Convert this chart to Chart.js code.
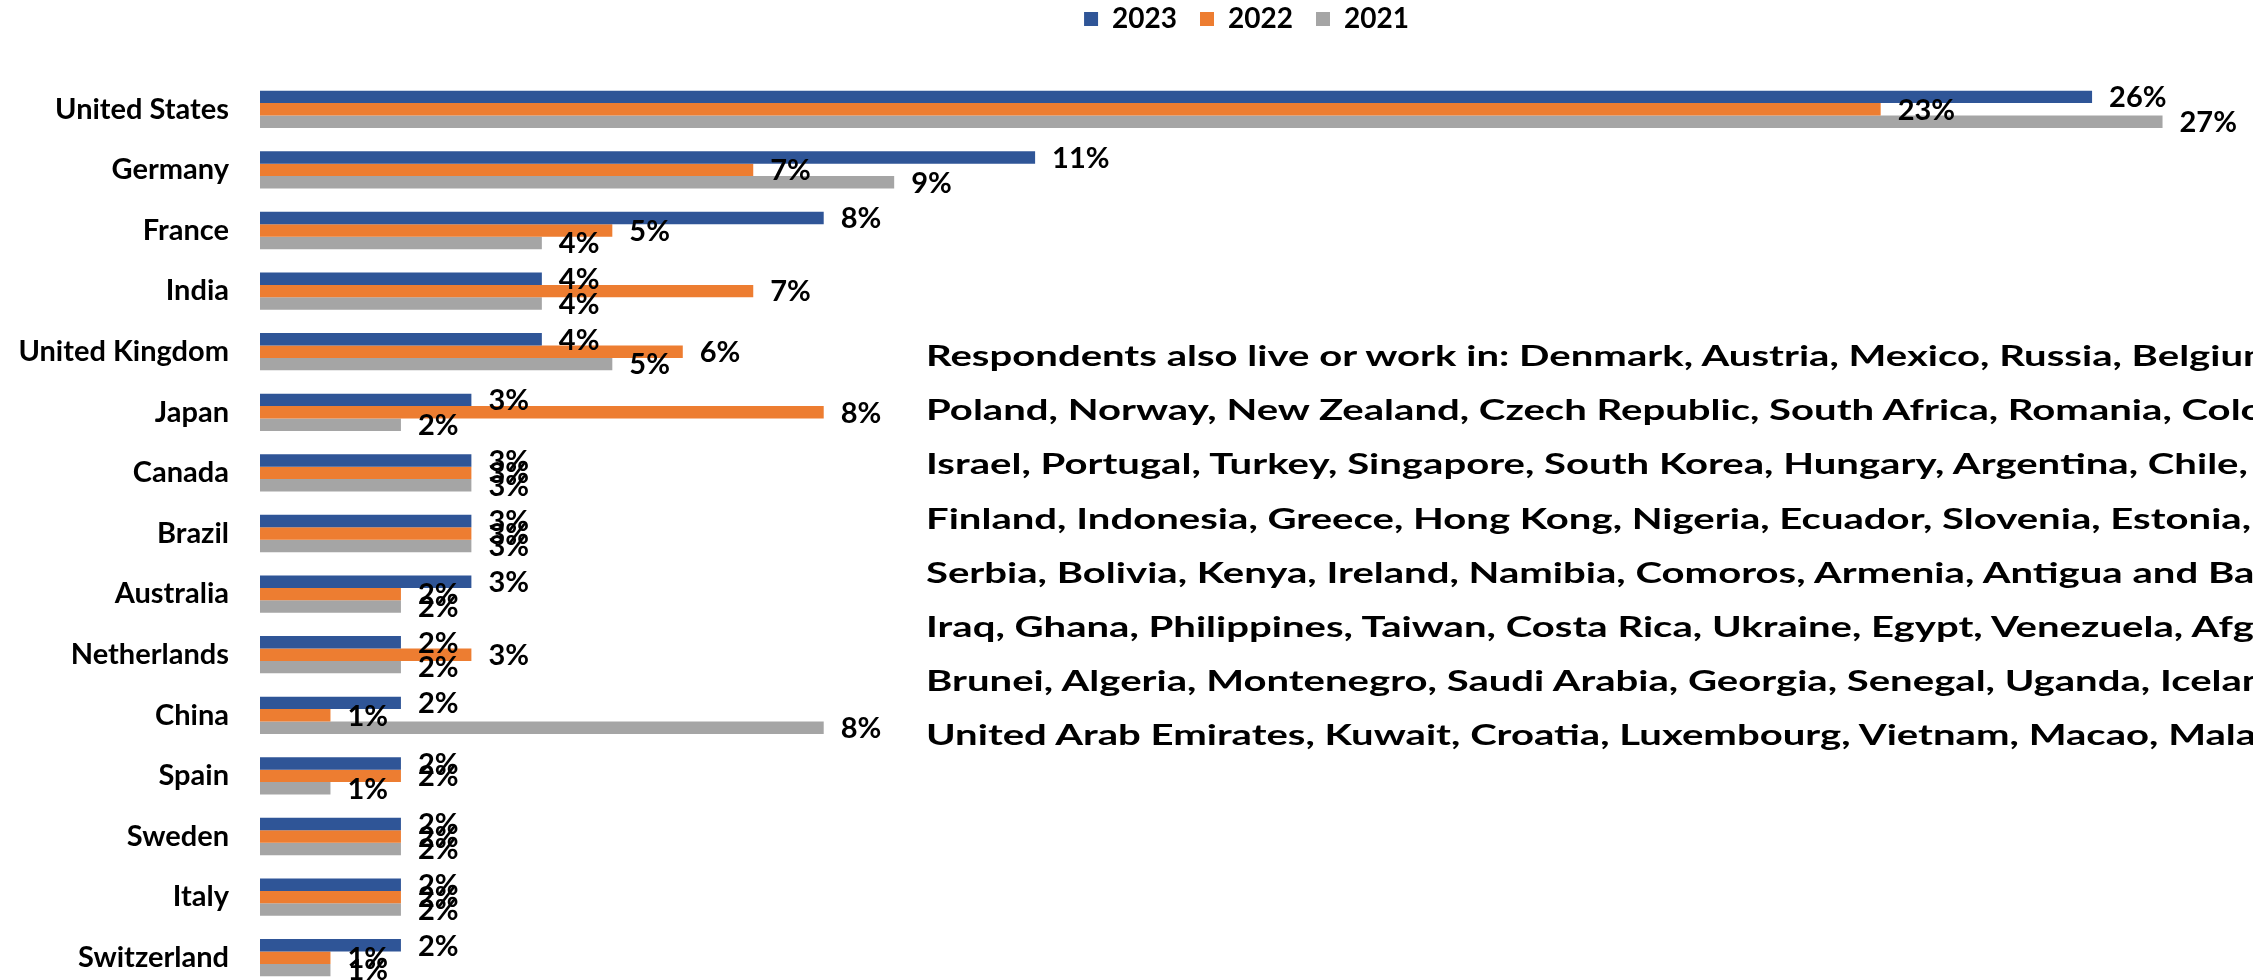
<!DOCTYPE html>
<html><head><meta charset="utf-8">
<script src="https://cdn.jsdelivr.net/npm/chart.js@4.4.1/dist/chart.umd.min.js"></script>
<style>
html,body{margin:0;padding:0;background:#fff;overflow:hidden;width:2253px;height:980px;}
#wrap{position:absolute;left:0;top:0;width:2253px;height:988px;}
#note{position:absolute;left:926px;top:328px;font-family:Lato,sans-serif;font-weight:700;font-size:28px;line-height:54.2px;color:#000;white-space:nowrap;transform-origin:0 0;}
</style></head><body>
<div id="wrap"><canvas id="c" width="2253" height="988"></canvas></div>
<div id="note"></div>
<script>
const categories = ['United States','Germany','France','India','United Kingdom','Japan','Canada','Brazil','Australia','Netherlands','China','Spain','Sweden','Italy','Switzerland'];
const seriesNames = ['2023','2022','2021'];
const values2023 = [26,11,8,4,4,3,3,3,3,2,2,2,2,2,2];
const values2022 = [23,7,5,7,6,8,3,3,2,3,1,2,2,2,1];
const values2021 = [27,9,4,4,5,2,3,3,2,2,8,1,2,2,1];
const seriesColors = ['#2F5597','#ED7D31','#A5A5A5'];
const noteLines = [
  'Respondents also live or work in: Denmark, Austria, Mexico, Russia, Belgium,',
  'Poland, Norway, New Zealand, Czech Republic, South Africa, Romania, Colombia,',
  'Israel, Portugal, Turkey, Singapore, South Korea, Hungary, Argentina, Chile,',
  'Finland, Indonesia, Greece, Hong Kong, Nigeria, Ecuador, Slovenia, Estonia,',
  'Serbia, Bolivia, Kenya, Ireland, Namibia, Comoros, Armenia, Antigua and Barbuda,',
  'Iraq, Ghana, Philippines, Taiwan, Costa Rica, Ukraine, Egypt, Venezuela, Afghanistan,',
  'Brunei, Algeria, Montenegro, Saudi Arabia, Georgia, Senegal, Uganda, Iceland,',
  'United Arab Emirates, Kuwait, Croatia, Luxembourg, Vietnam, Macao, Malaysia'
];

const valueLabels = {
  id: 'valueLabels',
  afterDatasetsDraw(chart) {
    const ctx = chart.ctx;
    ctx.save();
    ctx.font = 'bold 29px Lato, sans-serif';
    ctx.fillStyle = '#000';
    ctx.textAlign = 'left';
    ctx.textBaseline = 'middle';
    chart.data.datasets.forEach((ds, i) => {
      chart.getDatasetMeta(i).data.forEach((el, j) => {
        ctx.fillText(ds.data[j] + '%', el.x + 17, el.y + 1);
      });
    });
    ctx.restore();
  }
};

function build() {
  const note = document.getElementById('note');
  note.innerHTML = noteLines.map(s => '<div>' + s + '</div>').join('');
  const mctx = document.createElement('canvas').getContext('2d');
  mctx.font = 'bold 28px Lato, sans-serif';
  const w = mctx.measureText('Respondents also live or work in:').width;
  note.style.transform = 'scaleX(' + (585 / w) + ')';

  const allValues = [values2023, values2022, values2021];
  new Chart(document.getElementById('c'), {
    type: 'bar',
    data: {
      labels: categories,
      datasets: seriesNames.map((n, i) => ({
        label: n, data: allValues[i], backgroundColor: seriesColors[i], borderWidth: 0,
        categoryPercentage: 0.615, barPercentage: 1.0
      }))
    },
    options: {
      indexAxis: 'y',
      responsive: false,
      animation: false,
      devicePixelRatio: 1,
      layout: { padding: { top: -18, right: 20, bottom: 0, left: 0 } },
      plugins: {
        legend: {
          position: 'top', fullSize: false, align: 'center',
          labels: { font: { family: 'Lato', weight: 'bold', size: 28 }, color: '#000', boxWidth: 14, boxHeight: 14, padding: 23 }
        },
        tooltip: { enabled: false }
      },
      scales: {
        x: {
          position: 'top', min: 0, max: 28,
          ticks: { display: false },
          grid: { display: false, drawTicks: false },
          border: { display: false },
          afterFit: s => { s.height = 36; }
        },
        y: {
          ticks: { font: { family: 'Lato', weight: 'bold', size: 29 }, color: '#000', padding: 3 },
          grid: { display: true, drawOnChartArea: false, drawTicks: true, tickLength: 28, color: 'rgba(0,0,0,0)' },
          border: { display: false },
          afterFit: s => { s.width = 260; s.paddingTop = 0; s.paddingBottom = 0; }
        }
      }
    },
    plugins: [valueLabels]
  });
}
Promise.all([
  document.fonts.load('bold 29px Lato'),
  document.fonts.load('bold 28px Lato')
]).then(build, build);
</script>
</body></html>
